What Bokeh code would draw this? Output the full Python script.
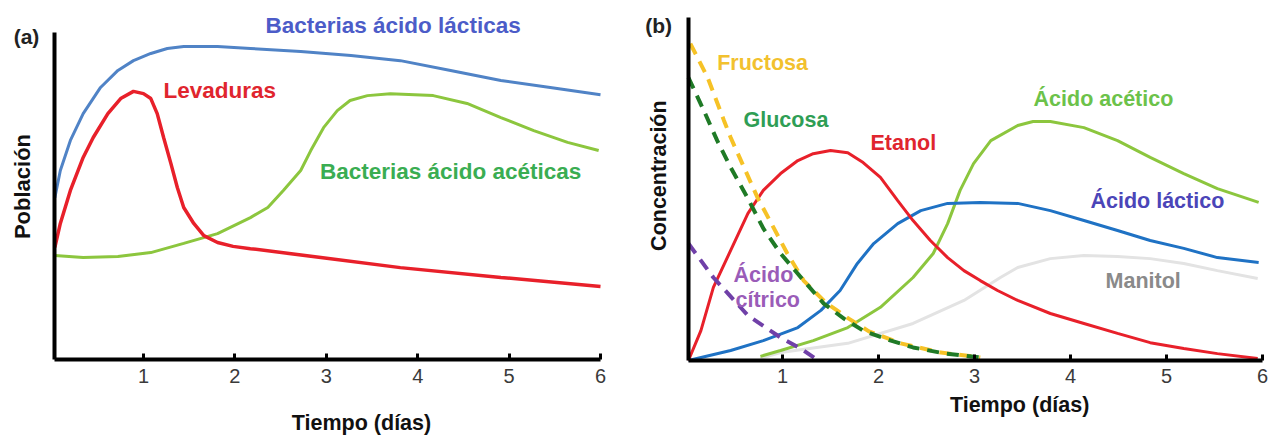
import math
from bokeh.plotting import figure
from bokeh.layouts import row
from bokeh.models import Range1d, FixedTicker, Label
from bokeh.embed import file_html
from bokeh.resources import INLINE

# ---------------- data: panel (a) ----------------
ticks = [1, 2, 3, 4, 5, 6]
tick_labels = ["1", "2", "3", "4", "5", "6"]

bal_x = [0.03, 0.09, 0.20, 0.34, 0.53, 0.72, 0.89, 1.08, 1.26, 1.44, 1.62, 1.81, 2.17, 2.72, 3.27, 3.81, 4.36, 4.91, 5.45, 6.0]
bal_y = [4.95, 5.78, 6.70, 7.52, 8.32, 8.84, 9.14, 9.36, 9.51, 9.57, 9.57, 9.57, 9.51, 9.42, 9.30, 9.14, 8.84, 8.53, 8.32, 8.10]

lev_x = [0.03, 0.09, 0.20, 0.34, 0.45, 0.61, 0.75, 0.89, 1.00, 1.08, 1.15, 1.22, 1.30, 1.37, 1.44, 1.55, 1.66, 1.81, 1.98, 2.17, 2.94, 3.81, 4.91, 6.0]
lev_y = [3.43, 4.16, 5.17, 6.18, 6.79, 7.52, 7.98, 8.20, 8.13, 7.98, 7.52, 6.79, 5.99, 5.26, 4.65, 4.16, 3.79, 3.58, 3.46, 3.39, 3.12, 2.81, 2.51, 2.23]

baa_x = [0.03, 0.34, 0.72, 1.08, 1.44, 1.81, 2.17, 2.36, 2.53, 2.72, 2.83, 2.97, 3.12, 3.26, 3.45, 3.70, 4.17, 4.54, 4.91, 5.27, 5.64, 5.98]
baa_y = [3.18, 3.12, 3.15, 3.27, 3.55, 3.85, 4.34, 4.65, 5.17, 5.78, 6.39, 7.09, 7.61, 7.92, 8.07, 8.13, 8.07, 7.83, 7.40, 7.00, 6.64, 6.39]

# ---------------- data: panel (b) ----------------
fru_x = [0.04, 0.22, 0.39, 0.46, 0.74, 1.05, 1.22, 1.45, 1.69, 1.90, 2.23, 2.65, 3.06]
fru_y = [9.24, 8.25, 7.00, 6.50, 4.75, 3.12, 2.33, 1.69, 1.22, 0.85, 0.50, 0.23, 0.09]

glu_x = [0.02, 0.18, 0.32, 0.46, 0.64, 0.80, 0.98, 1.22, 1.43, 1.64, 1.84, 2.13, 2.36, 2.70, 3.06]
glu_y = [8.25, 7.29, 6.41, 5.63, 4.72, 3.85, 3.12, 2.33, 1.66, 1.22, 0.87, 0.58, 0.38, 0.20, 0.09]

cit_x = [0.02, 0.28, 0.64, 0.98, 1.19, 1.34]
cit_y = [3.41, 2.42, 1.31, 0.67, 0.35, 0.06]

eta_x = [0.02, 0.15, 0.28, 0.46, 0.64, 0.80, 0.98, 1.16, 1.32, 1.50, 1.68, 1.84, 2.02, 2.20, 2.36, 2.54, 2.72, 2.89, 3.06, 3.24, 3.45, 3.79, 4.14, 4.49, 4.83, 5.18, 5.53, 5.95]
eta_y = [0.00, 0.87, 2.13, 3.21, 4.29, 4.96, 5.45, 5.83, 6.03, 6.12, 6.06, 5.77, 5.34, 4.66, 4.08, 3.50, 3.00, 2.62, 2.33, 2.04, 1.75, 1.37, 1.08, 0.79, 0.52, 0.35, 0.20, 0.06]

lac_x = [0.02, 0.46, 0.80, 1.16, 1.40, 1.60, 1.78, 1.95, 2.20, 2.44, 2.72, 3.06, 3.45, 3.79, 4.14, 4.49, 4.83, 5.18, 5.53, 5.96]
lac_y = [0.00, 0.29, 0.58, 0.96, 1.46, 2.04, 2.83, 3.41, 3.99, 4.37, 4.58, 4.61, 4.58, 4.37, 4.08, 3.79, 3.50, 3.27, 3.00, 2.86]

ace_x = [0.77, 0.98, 1.32, 1.68, 2.02, 2.36, 2.57, 2.72, 2.85, 2.99, 3.17, 3.45, 3.61, 3.79, 4.14, 4.49, 4.83, 5.18, 5.53, 5.96]
ace_y = [0.12, 0.29, 0.58, 0.96, 1.55, 2.42, 3.12, 3.99, 4.96, 5.74, 6.41, 6.85, 6.97, 6.97, 6.79, 6.41, 5.92, 5.45, 5.01, 4.61]

man_x = [0.77, 0.98, 1.68, 2.36, 2.89, 3.27, 3.45, 3.79, 4.14, 4.49, 4.83, 5.18, 5.53, 5.95]
man_y = [0.06, 0.23, 0.50, 1.08, 1.75, 2.42, 2.71, 2.97, 3.06, 3.03, 2.97, 2.83, 2.62, 2.39]

FONT = "Liberation Sans"


def base_fig(width, height, xr, yr, x0):
    p = figure(width=width, height=height,
               min_border_left=0, min_border_right=0,
               min_border_top=0, min_border_bottom=0,
               x_range=Range1d(*xr), y_range=Range1d(*yr),
               output_backend="svg", toolbar_location=None,
               background_fill_color="white", border_fill_color="white")
    p.outline_line_color = None
    p.grid.visible = False
    # x axis
    p.xaxis.fixed_location = 0
    p.xaxis.bounds = (x0, 6.0)
    p.xaxis.ticker = FixedTicker(ticks=ticks)
    p.xaxis.major_label_overrides = {t: l for t, l in zip(ticks, tick_labels)}
    p.xaxis.minor_tick_line_color = None
    p.xaxis.major_tick_in = 6
    p.xaxis.major_tick_out = 0
    p.xaxis.major_tick_line_width = 3
    p.xaxis.major_tick_line_color = "black"
    p.xaxis.axis_line_width = 4
    p.xaxis.axis_line_color = "black"
    p.xaxis.major_label_text_font = FONT
    p.xaxis.major_label_text_font_size = "20px"
    p.xaxis.major_label_text_color = "#3a3a3a"
    p.xaxis.major_label_standoff = 9
    # y axis
    p.yaxis.fixed_location = x0
    p.yaxis.bounds = (0, 10)
    p.yaxis.ticker = FixedTicker(ticks=[])
    p.yaxis.minor_tick_line_color = None
    p.yaxis.major_tick_line_color = None
    p.yaxis.major_tick_in = 0
    p.yaxis.major_tick_out = 0
    p.yaxis.major_label_standoff = 0
    p.yaxis.major_label_text_font_size = "0px"
    p.yaxis.axis_line_width = 4
    p.yaxis.axis_line_color = "black"
    return p


def lab(p, x, y, text, color, size, align="left", angle=0.0, style="bold"):
    p.add_layout(Label(x=x, y=y, text=text, text_color=color, text_font=FONT,
                       text_font_size=size, text_font_style=style,
                       text_baseline="middle", text_align=align, angle=angle))


# ---------------- panel (a) ----------------
pa = base_fig(634, 435, (-0.5646, 6.372), (-2.324, 10.979), 0.025)
pa.line(baa_x, baa_y, line_color="#8cc63e", line_width=3)
pa.line(lev_x, lev_y, line_color="#e8202a", line_width=3.5)
pa.line(bal_x, bal_y, line_color="#5083c6", line_width=3)

lab(pa, 2.335, 10.20, "Bacterias ácido lácticas", "#4c5cc8", "22.5px")
lab(pa, 1.219, 8.23, "Levaduras", "#e0252e", "22.5px")
lab(pa, 2.93, 5.75, "Bacterias ácido acéticas", "#3aad52", "22.5px")
lab(pa, -0.28, 9.88, "(a)", "#222222", "21px", align="center")
lab(pa, -0.324, 5.29, "Población", "#111111", "22px", align="center", angle=math.pi / 2)
lab(pa, 3.385, -1.957, "Tiempo (días)", "#111111", "21.5px", align="center")

# ---------------- panel (b) ----------------
pb = base_fig(641, 435, (-0.5417, 6.1354), (-2.187, 10.496), 0.02)
pb.line(man_x, man_y, line_color="#e3e3e3", line_width=3)
pb.line(ace_x, ace_y, line_color="#8cc63e", line_width=3)
pb.line(lac_x, lac_y, line_color="#1f72c4", line_width=3)
pb.line(eta_x, eta_y, line_color="#e8202a", line_width=3)
pb.line(cit_x, cit_y, line_color="#7040a8", line_width=4, line_dash="12 8")
pb.line(fru_x, fru_y, line_color="#f6c226", line_width=4, line_dash="12 8")
pb.line(glu_x, glu_y, line_color="#1f7a26", line_width=4, line_dash="12 8")

lab(pb, 0.32, 8.66, "Fructosa", "#f2c12e", "21.5px")
lab(pb, 0.594, 7.01, "Glucosa", "#2f9e55", "21.5px")
lab(pb, 1.917, 6.33, "Etanol", "#e0252e", "21.5px")
lab(pb, 3.615, 7.62, "Ácido acético", "#6cc24a", "21.5px")
lab(pb, 4.208, 4.66, "Ácido láctico", "#4b45b8", "21.5px")
lab(pb, 4.365, 2.33, "Manitol", "#8a8a8a", "21.5px")
lab(pb, 0.49, 2.48, "Ácido", "#9a5cb8", "21.5px")
lab(pb, 0.51, 1.75, "cítrico", "#9a5cb8", "21.5px")
lab(pb, -0.29, 9.77, "(b)", "#222222", "21px", align="center")
lab(pb, -0.29, 5.39, "Concentración", "#111111", "21.5px", align="center", angle=math.pi / 2)
lab(pb, 3.47, -1.312, "Tiempo (días)", "#111111", "21.5px", align="center")

layout = row(pa, pb)
open("out.html", "w").write(file_html(layout, INLINE))
